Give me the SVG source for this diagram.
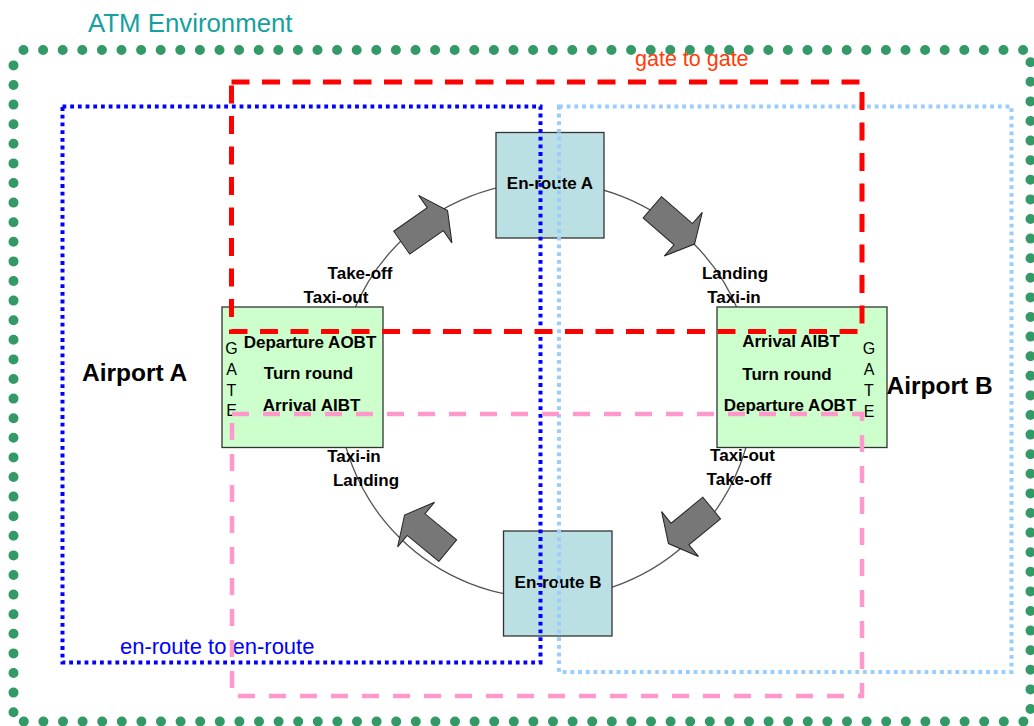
<svg xmlns="http://www.w3.org/2000/svg" width="1034" height="726" viewBox="0 0 1034 726">
  <defs>
    <style>
      text { font-family: "Liberation Sans", Arial, sans-serif; }
      .lbl { font-size: 17px; font-weight: bold; fill: #000; text-anchor: middle; }
      .gate { font-size: 16px; fill: #000; text-anchor: middle; }
      .airport { font-size: 24.5px; font-weight: bold; fill: #000; }
      .route { fill: #bbe0e3; stroke: #333; stroke-width: 1.3; }
      .stand { fill: #ccffcc; stroke: #333; stroke-width: 1.3; }
      .flow { fill: #777; stroke: #222; stroke-width: 1; stroke-linejoin: miter; }
      .region { fill: none; }
    </style>
    <!-- block arrow pointing along +x, tail centre at origin -->
    <polygon id="blockArrow" class="flow" points="0,-14 41,-14 41,-29 56,0 41,29 41,14 0,14"/>
  </defs>

  <rect width="1034" height="726" fill="#fff"/>

  <!-- outer environment boundary -->
  <g id="atm-environment">
    <rect class="region" x="13.5" y="50" width="1017" height="671.5" stroke="#339966" stroke-width="10" stroke-linecap="round" stroke-dasharray="0 19.6" stroke-dashoffset="-10"/>
    <text x="88" y="32" font-size="25.8" fill="#16a0a0">ATM Environment</text>
  </g>

  <!-- flight cycle: ring and direction arrows -->
  <g id="connectors">
    <circle cx="546" cy="390" r="208" fill="none" stroke="#555" stroke-width="1.3"/>
    <use href="#blockArrow" transform="translate(401.7,242.7) rotate(-35)"/>
    <use href="#blockArrow" transform="translate(652.3,207.3) rotate(41)"/>
    <use href="#blockArrow" transform="translate(711.7,508) rotate(140.6)"/>
    <use href="#blockArrow" transform="translate(447.7,550.7) rotate(-140.4)"/>
  </g>

  <!-- phase labels along the ring -->
  <g id="phase-labels">
    <text class="lbl" x="360" y="279">Take-off</text>
    <text class="lbl" x="336" y="303">Taxi-out</text>
    <text class="lbl" x="735" y="279">Landing</text>
    <text class="lbl" x="734" y="303">Taxi-in</text>
    <text class="lbl" x="354" y="461.5">Taxi-in</text>
    <text class="lbl" x="366" y="485.5">Landing</text>
    <text class="lbl" x="742.5" y="461">Taxi-out</text>
    <text class="lbl" x="739" y="485">Take-off</text>
  </g>

  <g id="en-route-a">
    <rect class="route" x="496" y="132.5" width="108" height="105.5"/>
    <text class="lbl" x="550" y="188.5">En-route A</text>
  </g>

  <g id="en-route-b">
    <rect class="route" x="503.5" y="531" width="108.5" height="105"/>
    <text class="lbl" x="558" y="587.5">En-route B</text>
  </g>

  <g id="airport-a">
    <rect class="stand" x="222" y="307" width="161" height="140.5"/>
    <text class="lbl" x="310" y="347.5">Departure AOBT</text>
    <text class="lbl" x="308.5" y="378.5">Turn round</text>
    <text class="lbl" x="311.5" y="410.5">Arrival AIBT</text>
    <text class="gate" x="231.5" y="354">G</text>
    <text class="gate" x="231.5" y="375">A</text>
    <text class="gate" x="231.5" y="395.5">T</text>
    <text class="gate" x="231.5" y="416">E</text>
    <text class="airport" x="82" y="380.5">Airport A</text>
  </g>

  <g id="airport-b">
    <rect class="stand" x="717" y="307" width="170" height="140.5"/>
    <text class="lbl" x="791" y="347">Arrival AIBT</text>
    <text class="lbl" x="787" y="379.5">Turn round</text>
    <text class="lbl" x="790" y="410.5">Departure AOBT</text>
    <text class="gate" x="869" y="353.5">G</text>
    <text class="gate" x="869" y="375">A</text>
    <text class="gate" x="869" y="395.5">T</text>
    <text class="gate" x="869" y="416.5">E</text>
    <text class="airport" x="886.5" y="394">Airport B</text>
  </g>

  <!-- scope regions, drawn over the nodes -->
  <g id="scopes">
    <text x="120" y="654" font-size="22" fill="#0000ff">en-route to en-route</text>
    <text x="635" y="66" font-size="21.5" fill="#ff3c0a">gate to gate</text>
    <rect id="scope-en-route-a" class="region" x="62.5" y="106.5" width="478" height="556" stroke="#0000ff" stroke-width="4" stroke-dasharray="3.8 3.9"/>
    <rect id="scope-en-route-b" class="region" x="559" y="106.5" width="452.5" height="565.5" stroke="#99ccff" stroke-width="4" stroke-dasharray="3.8 3.9"/>
    <rect id="scope-inbound" class="region" x="232" y="414" width="630" height="282" stroke="#ff99cc" stroke-width="4.5" stroke-dasharray="17 14"/>
    <rect id="scope-gate-to-gate" class="region" x="231.5" y="82" width="630.5" height="249.5" stroke="#ff0000" stroke-width="5" stroke-dasharray="18 12.5"/>
  </g>
</svg>
